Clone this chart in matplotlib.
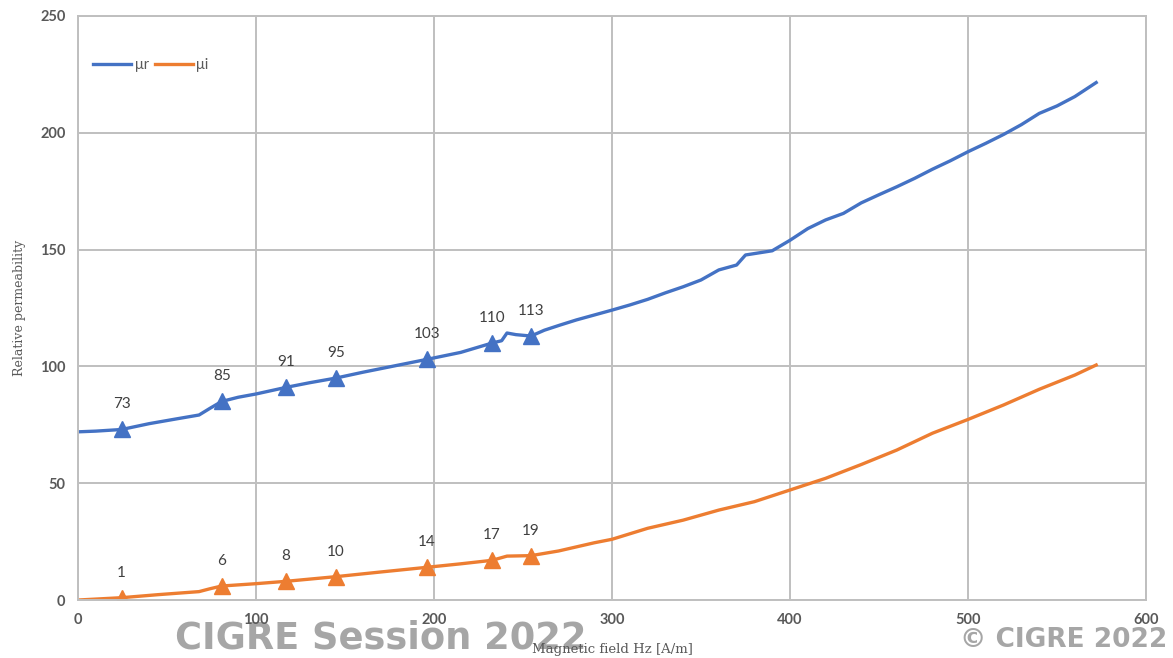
import matplotlib.pyplot as plt

# magnetic field Hz [A/m] and relative permeability curves
hz_r = [0, 10, 24.5, 40, 55, 68, 74, 80.7, 90, 100, 116.7, 130, 144.8, 160, 175, 195.9,
        215, 232.6, 238, 241, 246, 254.5, 262, 270.8, 280, 290, 300, 310, 320, 330, 340,
        350, 360, 370, 375, 390, 400, 410, 420, 430, 440, 450, 460, 470, 480, 490, 500,
        510, 520, 530, 540, 550, 560, 566, 572]
mu_r = [72, 72.3, 73, 75.5, 77.5, 79.2, 82, 85, 86.8, 88.2, 91, 93, 95, 97.5, 99.8, 103,
        106, 110, 111, 114.3, 113.6, 113, 115.5, 117.7, 119.9, 122, 124.1, 126.3, 128.7,
        131.5, 134.1, 137, 141.3, 143.4, 147.7, 149.5, 154, 159, 162.7, 165.5, 170, 173.5,
        176.9, 180.5, 184.4, 188, 191.9, 195.5, 199.3, 203.5, 208.3, 211.5, 215.5, 218.5, 221.5]

hz_i = [0, 24.5, 45, 68, 74, 80.7, 100, 116.7, 144.8, 170, 195.9, 215, 232.6, 241, 254.5,
        270, 290, 300, 320, 340, 360, 380, 400, 420, 440, 460, 480, 500, 520, 540, 560, 572]
mu_i = [0, 1, 2.3, 3.6, 4.8, 6, 7, 8, 10, 12, 14, 15.5, 17, 18.8, 19, 21, 24.5, 26,
        30.7, 34.2, 38.5, 42.1, 47.1, 52.1, 58, 64.2, 71.4, 77.3, 83.5, 90.2, 96.3, 100.6]

# labelled measurement points
mark_hz = [24.5, 80.7, 116.7, 144.8, 195.9, 232.6, 254.5]
mark_r = [73, 85, 91, 95, 103, 110, 113]
mark_i = [1, 6, 8, 10, 14, 17, 19]

blue = '#4472c4'
orange = '#ed7d31'
grey = '#595959'

plt.rcParams['font.family'] = ['Lato', 'DejaVu Sans']
fig = plt.figure(figsize=(11.73, 6.58), dpi=100)
ax = fig.add_axes([0.0665, 0.0881, 0.9105, 0.8876])

ax.plot(hz_r, mu_r, color=blue, lw=2.4, label='μr', solid_joinstyle='round')
ax.plot(hz_i, mu_i, color=orange, lw=2.4, label='μi', solid_joinstyle='round')
ax.plot(mark_hz, mark_r, ls='none', marker='^', ms=11, color=blue)
ax.plot(mark_hz, mark_i, ls='none', marker='^', ms=11, color=orange)

for x, v in zip(mark_hz, mark_r):
    ax.annotate(str(v), (x, v), xytext=(0, 13), textcoords='offset points',
                ha='center', va='bottom', fontsize=11, color='#404040')
for x, v in zip(mark_hz, mark_i):
    ax.annotate(str(v), (x, v), xytext=(0, 13), textcoords='offset points',
                ha='center', va='bottom', fontsize=11, color='#404040')

ax.set_xlim(0, 600)
ax.set_ylim(0, 250)
ax.set_xticks(range(0, 601, 100))
ax.set_yticks(range(0, 251, 50))
ax.grid(True, color='#bfbfbf', lw=1.4)
ax.set_axisbelow(True)
for s in ax.spines.values():
    s.set_color('#bfbfbf')
    s.set_linewidth(1.4)
ax.tick_params(length=0, labelsize=10.5, labelcolor=grey, pad=9)
for lab in ax.get_xticklabels() + ax.get_yticklabels():
    lab.set_fontweight('bold')

ax.set_ylabel('Relative permeability', family='DejaVu Serif', fontsize=9,
              color=grey, labelpad=10)
ax.set_xlabel('Magnetic field Hz [A/m]', family='DejaVu Serif', fontsize=9.5,
              color=grey, labelpad=12)

ax.legend(loc='upper left', bbox_to_anchor=(0.002, 0.95), ncol=2, frameon=False,
          fontsize=10.5, labelcolor=grey, handlelength=2.6, columnspacing=0.4,
          handletextpad=0.25)

# conference watermarks along the bottom edge
fig.text(0.149, 0.015, 'CIGRE Session 2022', fontsize=26.5, fontweight='bold',
         family='DejaVu Sans', color='#a6a6a6', zorder=-1)
fig.text(0.995, 0.017, '© CIGRE 2022', fontsize=19, fontweight='bold',
         family='DejaVu Sans', color='#a6a6a6', ha='right', zorder=-1)

fig.savefig('out.png', dpi=100)
